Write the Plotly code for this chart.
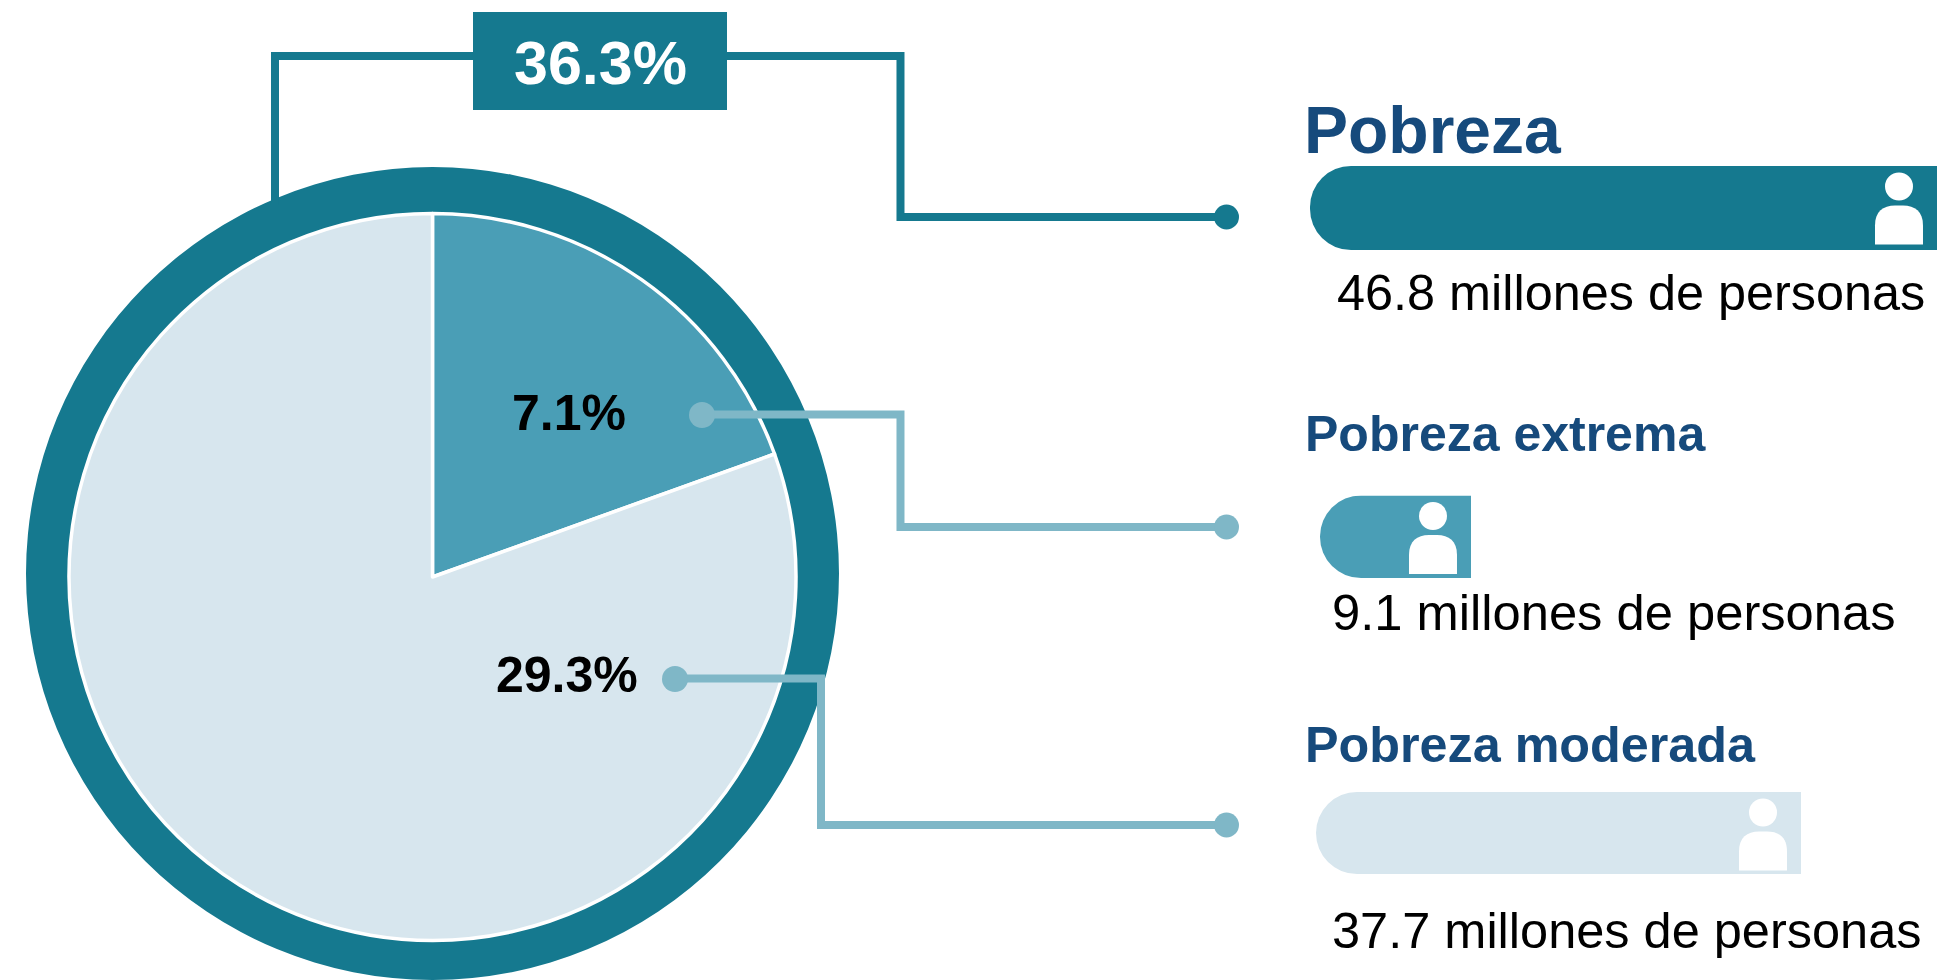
import plotly.graph_objects as go

# ---- data ----
total_share = [36.3]
slice_labels = ["Pobreza extrema", "Pobreza moderada"]
slice_values = [7.1, 29.3]
bar_labels = ["Pobreza", "Pobreza extrema", "Pobreza moderada"]
bar_values = [46.8, 9.1, 37.7]

# ---- styling ----
W, H = 1937, 980
FONT = "Liberation Sans"
TEAL, MID, LIGHT, LINE, NAVY = "#15798F", "#4A9EB6", "#D7E6EE", "#7FB7C7", "#164A7C"
bar_colors = [TEAL, MID, LIGHT]
bar_boxes = [(1310, 1937, 166, 250), (1320, 1471, 495.5, 578), (1316, 1801, 792, 874)]


def px(x):
    return x / W


def py(y):
    return 1 - y / H


def disc_domain(cx, cy, r):
    return dict(x=[px(cx - r), px(cx + r)], y=[max(py(cy + r), 0), py(cy - r)])


fig = go.Figure()

# Outer ring: whole-population share as a full disc behind the split pie
fig.add_trace(go.Pie(values=total_share, labels=["Pobreza"], sort=False, textinfo="none",
                     marker=dict(colors=[TEAL], line=dict(width=0)),
                     domain=disc_domain(432.5, 573.5, 406.5), showlegend=False))
fig.add_trace(go.Pie(values=slice_values, labels=slice_labels, sort=False, direction="clockwise",
                     rotation=0, textinfo="none",
                     marker=dict(colors=[MID, LIGHT], line=dict(color="white", width=3.5)),
                     domain=disc_domain(432.5, 577, 363.5), showlegend=False))

# Bars: each on its own reversed axis so the rounded tip faces left
layout_axes = {}
for i, (label, value, color, box) in enumerate(zip(bar_labels, bar_values, bar_colors, bar_boxes)):
    n = i + 1
    suffix = "" if n == 1 else str(n)
    fig.add_trace(go.Bar(x=[value], y=[label], orientation="h", width=1,
                         marker=dict(color=color, line=dict(width=0), cornerradius=41),
                         xaxis=f"x{suffix}", yaxis=f"y{suffix}", showlegend=False))
    layout_axes[f"xaxis{suffix}"] = dict(domain=[px(box[0]), px(box[1])], range=[value, 0],
                                         visible=False, fixedrange=True, anchor=f"y{suffix}")
    layout_axes[f"yaxis{suffix}"] = dict(domain=[py(box[3]), py(box[2])], range=[-0.5, 0.5],
                                         type="category", visible=False, fixedrange=True,
                                         anchor=f"x{suffix}")

shapes = []


def poly(points, color, width=8):
    d = "M " + " L ".join(f"{px(x):.5f},{py(y):.5f}" for x, y in points)
    shapes.append(dict(type="path", path=d, xref="paper", yref="paper", layer="above",
                       line=dict(color=color, width=width)))


def dot(cx, cy, r, color):
    shapes.append(dict(type="circle", xref="paper", yref="paper", layer="above",
                       x0=px(cx - r), x1=px(cx + r), y0=py(cy + r), y1=py(cy - r),
                       fillcolor=color, line=dict(width=0)))


def rect(x0, x1, y0, y1, color):
    shapes.append(dict(type="rect", xref="paper", yref="paper", layer="above",
                       x0=px(x0), x1=px(x1), y0=py(y1), y1=py(y0),
                       fillcolor=color, line=dict(width=0)))


def person(cx, top):
    dot(cx, top + 20.5, 14, "white")
    l, r, t, b = cx - 24, cx + 24, top + 39.5, top + 78.5
    k = 20
    d = f"M {px(l):.5f},{py(b):.5f} L {px(l):.5f},{py(t + k):.5f} "
    d += f"C {px(l):.5f},{py(t + 6):.5f} {px(l + 8):.5f},{py(t):.5f} {px(l + k):.5f},{py(t):.5f} "
    d += f"L {px(r - k):.5f},{py(t):.5f} "
    d += f"C {px(r - 8):.5f},{py(t):.5f} {px(r):.5f},{py(t + 6):.5f} {px(r):.5f},{py(t + k):.5f} "
    d += f"L {px(r):.5f},{py(b):.5f} Z"
    shapes.append(dict(type="path", path=d, xref="paper", yref="paper", layer="above",
                       fillcolor="white", line=dict(width=0)))


# Connectors
poly([(275, 205), (275, 56), (900.5, 56), (900.5, 217), (1226, 217)], TEAL)
rect(473, 727, 12, 110, TEAL)
dot(1226.5, 217, 12.5, TEAL)
poly([(702, 414.5), (900.5, 414.5), (900.5, 527), (1226, 527)], LINE)
dot(702, 415, 13, LINE)
dot(1226.5, 527, 12.5, LINE)
poly([(675, 678.5), (821, 678.5), (821, 825), (1226, 825)], LINE)
dot(675, 679, 13, LINE)
dot(1226.5, 825, 12.5, LINE)

# Person icons
for box in bar_boxes:
    person(box[1] - 38, box[2])

annotations = []


def label(text, x, y, size, color, bold=False, anchor="left"):
    annotations.append(dict(text=text, x=px(x), y=py(y), xref="paper", yref="paper",
                            xanchor=anchor, yanchor="middle", showarrow=False, align=anchor,
                            font=dict(family=FONT, size=size, color=color,
                                      weight=700 if bold else 400)))


label(f"{total_share[0]}%", 600, 63, 61, "white", True, "center")
label(f"{slice_values[0]}%", 569, 413, 50, "black", True, "center")
label(f"{slice_values[1]}%", 566.5, 675, 50, "black", True, "center")
label(bar_labels[0], 1302, 130, 66, NAVY, True)
label(bar_labels[1], 1303, 434, 50, NAVY, True)
label(bar_labels[2], 1303, 744, 50.3, NAVY, True)
label(f"{bar_values[0]} millones de personas", 1335, 292, 50.4, "black")
label(f"{bar_values[1]} millones de personas", 1330, 612, 50.7, "black")
label(f"{bar_values[2]} millones de personas", 1330, 930, 50.5, "black")

fig.update_layout(width=W, height=H, autosize=False, margin=dict(l=0, r=0, t=0, b=0, pad=0),
                  paper_bgcolor="white", plot_bgcolor="white", showlegend=False,
                  barmode="overlay", shapes=shapes, annotations=annotations, **layout_axes)

fig.write_html("out.html", config=dict(displayModeBar=False),
               post_script="document.body.style.margin='0';document.documentElement.style.overflow='hidden';")
